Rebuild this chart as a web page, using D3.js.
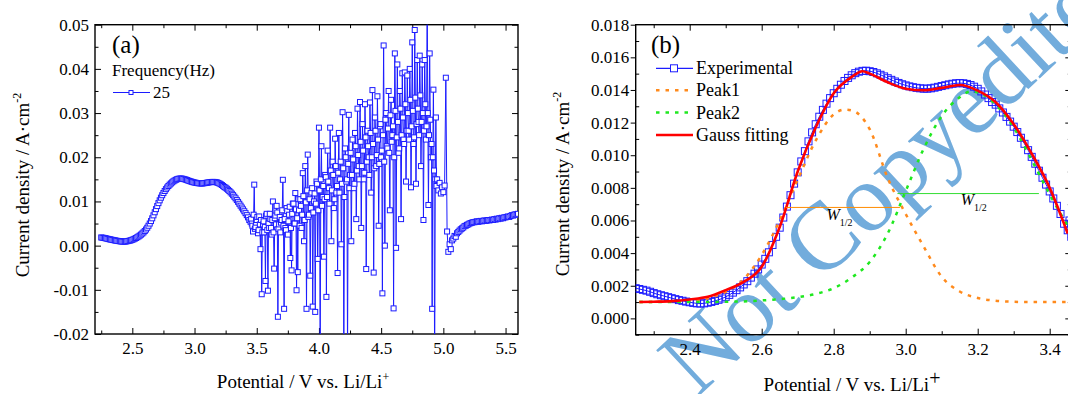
<!DOCTYPE html>
<html>
<head>
<meta charset="utf-8">
<script src="https://cdn.jsdelivr.net/npm/d3@7/dist/d3.min.js"></script>
<style>
  body { margin: 0; background: #fff; overflow: hidden; }
  svg { display: block; font-family: "Liberation Serif", "Times New Roman", serif; }
</style>
</head>
<body>
<svg id="chart" width="1068" height="394"></svg>
<script>
// experimental current density, A/cm2, on a 0.01 V grid
// smooth part : 2.25 -> 3.45 V
const smoothStart = 2.25;
const currentSmooth = [
  0.00185, 0.00180, 0.00175, 0.00170, 0.00163, 0.00155, 0.00148, 0.00142, 0.00136, 0.00130,
  0.00124, 0.00118, 0.00112, 0.00108, 0.00103, 0.00099, 0.00095, 0.00092, 0.00091, 0.00092,
  0.00096, 0.00101, 0.00107, 0.00114, 0.00122, 0.00132, 0.00144, 0.00158, 0.00173, 0.00190,
  0.00208, 0.00228, 0.00250, 0.00274, 0.00300, 0.00330, 0.00365, 0.00405, 0.00450, 0.00500,
  0.00556, 0.00618, 0.00685, 0.00755, 0.00826, 0.00895, 0.00962, 0.01025, 0.01085, 0.01140,
  0.01190, 0.01236, 0.01278, 0.01316, 0.01350, 0.01380, 0.01407, 0.01432, 0.01455, 0.01474,
  0.01490, 0.01503, 0.01512, 0.01517, 0.01518, 0.01515, 0.01510, 0.01502, 0.01493, 0.01483,
  0.01472, 0.01462, 0.01452, 0.01443, 0.01435, 0.01428, 0.01422, 0.01417, 0.01413, 0.01410,
  0.01408, 0.01408, 0.01410, 0.01414, 0.01419, 0.01424, 0.01429, 0.01434, 0.01438, 0.01441,
  0.01442, 0.01441, 0.01437, 0.01430, 0.01420, 0.01407, 0.01391, 0.01372, 0.01350, 0.01326,
  0.01310, 0.01287, 0.01262, 0.01235, 0.01206, 0.01175, 0.01142, 0.01107, 0.01070, 0.01031,
  0.00990, 0.00948, 0.00905, 0.00862, 0.00820, 0.00778, 0.00735, 0.00690, 0.00640, 0.00580,
  0.00540
];

// noisy part, points at 3.46, 3.47 ... 4.95 V
const noisyStart = 3.46;
const currentNoisy = [
  0.0050, 0.0032, 0.0138, 0.0042, 0.0058, 0.0028, 0.0066, -0.0008, -0.0110, 0.0048,
  0.0030, -0.0080, 0.0072, -0.0102, 0.0040, 0.0060, 0.0025, 0.0100, -0.0052, 0.0068,
  0.0090, -0.0161, 0.0048, 0.0030, 0.0058, 0.0149, -0.0143, 0.0040, 0.0085, 0.0025,
  0.0070, -0.0028, -0.0056, 0.0095, 0.0050, 0.0119, -0.0101, -0.0060, 0.0080, 0.0105,
  0.0040, 0.0164, 0.0010, 0.0180, -0.0143, 0.0206, 0.0070, -0.0068, 0.0120, -0.0138,
  0.0100, -0.0150, 0.0145, -0.0030, 0.0267, -0.0260, 0.0225, 0.0110, -0.0025, 0.0160,
  -0.0116, 0.0215, 0.0130, 0.0267, 0.0010, 0.0190, 0.0085, 0.0242, 0.0120, -0.0062,
  0.0255, 0.0150, 0.0003, 0.0302, -0.0270, 0.0220, 0.0145, -0.0260, 0.0296, 0.0160,
  0.0010, 0.0240, 0.0130, 0.0255, 0.0060, 0.0310, 0.0180, 0.0325, 0.0040, 0.0275,
  0.0150, 0.0320, -0.0053, 0.0260, 0.0200, 0.0324, 0.0120, 0.0352, -0.0061, 0.0290,
  0.0180, 0.0338, 0.0045, 0.0270, 0.0200, -0.0108, 0.0453, 0.0000, 0.0300, 0.0220,
  0.0350, 0.0080, 0.0330, 0.0250, -0.0142, 0.0435, -0.0005, 0.0410, 0.0210, 0.0350,
  0.0060, 0.0390, 0.0240, 0.0392, 0.0145, 0.0385, 0.0260, 0.0400, 0.0132, 0.0460,
  0.0230, 0.0488, 0.0140, 0.0420, 0.0280, 0.0430, 0.0180, 0.0410, 0.0058, 0.0420,
  0.0240, 0.0580, 0.0092, 0.0435, 0.0200, -0.0143, 0.0353, -0.0300, 0.0290, 0.0150
];

// noisy part, in-between points at 3.455, 3.465 ... 4.945 V (the dense core)
const noisyMidStart = 3.455;
const currentNoisyMid = [
  0.0060, 0.0045, 0.0070, 0.0038, 0.0052, 0.0065, 0.0035, 0.0048, 0.0058, 0.0030,
  0.0055, 0.0042, 0.0068, 0.0035, 0.0050, 0.0072, 0.0040, 0.0058, 0.0030, 0.0062,
  0.0048, 0.0075, 0.0038, 0.0065, 0.0052, 0.0080, 0.0045, 0.0060, 0.0035, 0.0078,
  0.0055, 0.0088, 0.0040, 0.0072, 0.0095, 0.0050, 0.0082, 0.0062, 0.0105, 0.0045,
  0.0090, 0.0070, 0.0112, 0.0058, 0.0098, 0.0125, 0.0065, 0.0105, 0.0085, 0.0130,
  0.0075, 0.0118, 0.0095, 0.0140, 0.0080, 0.0125, 0.0150, 0.0090, 0.0135, 0.0105,
  0.0155, 0.0110, 0.0145, 0.0095, 0.0170, 0.0125, 0.0160, 0.0105, 0.0180, 0.0135,
  0.0165, 0.0120, 0.0190, 0.0140, 0.0175, 0.0110, 0.0200, 0.0150, 0.0185, 0.0130,
  0.0210, 0.0160, 0.0195, 0.0140, 0.0225, 0.0170, 0.0205, 0.0150, 0.0235, 0.0180,
  0.0215, 0.0165, 0.0245, 0.0190, 0.0225, 0.0160, 0.0255, 0.0200, 0.0230, 0.0175,
  0.0260, 0.0205, 0.0240, 0.0185, 0.0275, 0.0215, 0.0250, 0.0190, 0.0285, 0.0225,
  0.0265, 0.0210, 0.0295, 0.0235, 0.0270, 0.0200, 0.0305, 0.0245, 0.0280, 0.0220,
  0.0310, 0.0250, 0.0290, 0.0230, 0.0320, 0.0260, 0.0300, 0.0240, 0.0330, 0.0270,
  0.0305, 0.0245, 0.0335, 0.0275, 0.0310, 0.0250, 0.0340, 0.0280, 0.0300, 0.0260,
  0.0320, 0.0270, 0.0300, 0.0250, 0.0285, 0.0230, 0.0200, 0.0170, 0.0150, 0.0135
];

// 4.96 -> 5.60 V
const tailStart = 4.96;
const currentTail = [
  0.0125, 0.0142, 0.0118, 0.0132, 0.0121, 0.0136, 0.0380, 0.0032, -0.0014, 0.0003,
  -0.0008, 0.0012, 0.0016, 0.0022, 0.0020, 0.0028, 0.0031, 0.0034, 0.0037, 0.0039,
  0.0041, 0.0044, 0.0045, 0.0047, 0.0048, 0.0050, 0.0051, 0.0052, 0.0053, 0.0053,
  0.0054, 0.0055, 0.0054, 0.0055, 0.0056, 0.0055, 0.0056, 0.0057, 0.0056, 0.0057,
  0.0058, 0.0057, 0.0058, 0.0059, 0.0058, 0.0060, 0.0059, 0.0061, 0.0060, 0.0062,
  0.0061, 0.0063, 0.0062, 0.0064, 0.0064, 0.0065, 0.0066, 0.0065, 0.0067, 0.0069,
  0.0068, 0.0070, 0.0071, 0.0070, 0.0072
];

// gauss fitting (b)
const fitPotential = [2.26, 2.30, 2.35, 2.40, 2.45, 2.50, 2.55, 2.60, 2.65, 2.70, 2.75, 2.80, 2.85,
  2.88, 2.90, 2.95, 3.00, 3.05, 3.10, 3.15, 3.20, 3.25, 3.30, 3.35, 3.40, 3.45];
const fitCurrent = [0.00100, 0.00102, 0.00106, 0.00116, 0.00132, 0.00173, 0.00224, 0.00316, 0.0056,
  0.0090, 0.0117, 0.0138, 0.0148, 0.01515, 0.0150, 0.01447, 0.01408, 0.01398, 0.01413, 0.0143,
  0.01396, 0.01325, 0.0119, 0.0101, 0.0080, 0.0052];

const peak1Potential = [2.26, 2.40, 2.50, 2.55, 2.60, 2.65, 2.70, 2.75, 2.80, 2.83, 2.85, 2.90, 2.95,
  3.00, 3.05, 3.10, 3.15, 3.20, 3.25, 3.30, 3.35, 3.46];
const peak1Current = [0.00100, 0.00108, 0.00163, 0.0024, 0.00388, 0.0060, 0.0085, 0.0109, 0.0125,
  0.0128, 0.01275, 0.0116, 0.0086, 0.0064, 0.0044, 0.00255, 0.00165, 0.00125, 0.00108, 0.00102,
  0.00100, 0.00100];

const peak2Potential = [2.26, 2.40, 2.50, 2.55, 2.60, 2.65, 2.70, 2.75, 2.80, 2.85, 2.90, 2.95, 3.00,
  3.05, 3.10, 3.15, 3.18, 3.20, 3.25, 3.30, 3.35, 3.40, 3.46];
const peak2Current = [0.00100, 0.00100, 0.00102, 0.00104, 0.00110, 0.00118, 0.00130, 0.00150, 0.00185,
  0.00250, 0.00346, 0.0052, 0.0078, 0.0104, 0.0124, 0.01355, 0.0139, 0.01385, 0.0131, 0.0117,
  0.0097, 0.0076, 0.0053];

// half-width markers
const halfPotential1 = [2.667, 2.984];
const halfCurrent1 = 0.0068;
const halfPotential2 = [2.977, 3.37];
const halfCurrent2 = 0.00765;

// axes ticks
const xMajorA = [2.5, 3.0, 3.5, 4.0, 4.5, 5.0, 5.5];
const xMinorA = [2.25, 2.75, 3.25, 3.75, 4.25, 4.75, 5.25];
const yMajorA = [-0.02, -0.01, 0.00, 0.01, 0.02, 0.03, 0.04, 0.05];
const yMinorA = [-0.015, -0.005, 0.005, 0.015, 0.025, 0.035, 0.045];
const xMajorB = [2.4, 2.6, 2.8, 3.0, 3.2, 3.4];
const xMinorB = [2.3, 2.5, 2.7, 2.9, 3.1, 3.3];
const yMajorB = [0.000, 0.002, 0.004, 0.006, 0.008, 0.010, 0.012, 0.014, 0.016, 0.018];
const yMinorB = [-0.001, 0.001, 0.003, 0.005, 0.007, 0.009, 0.011, 0.013, 0.015, 0.017];

const onGrid = (arr, start) => arr.map((c, i) => ({ p: +(start + i * 0.01).toFixed(3), c }));
const experimental = [
  ...onGrid(currentSmooth, smoothStart),
  ...onGrid(currentNoisy, noisyStart),
  ...onGrid(currentNoisyMid, noisyMidStart),
  ...onGrid(currentTail, tailStart)
].sort((a, b) => a.p - b.p);

const blue = "#1c1cff";
const orange = "#ff8a1c";
const green = "#1fe81f";
const svg = d3.select("#chart");

// watermark (beneath everything)
svg.append("text")
  .attr("transform", "translate(697,398) rotate(-43)")
  .attr("font-size", 96)
  .attr("fill", "#72acdc")
  .text("Not Copyedited");

function frame(g, x, y, o) {
  const [xl, xr] = x.range();
  const [yb, yt] = y.range();

  g.append("clipPath").attr("id", o.id)
    .append("rect").attr("x", xl).attr("y", yt).attr("width", xr - xl).attr("height", yb - yt);

  const put = (axis, t) => g.append("g").attr("transform", t).call(axis)
    .call(s => s.select(".domain").remove());

  put(d3.axisBottom(x).tickValues(o.xMajor).tickSize(-6).tickPadding(8).tickFormat(o.xFmt), `translate(0,${yb})`);
  put(d3.axisBottom(x).tickValues(o.xMinor).tickSize(-3.5).tickFormat(""), `translate(0,${yb})`);
  put(d3.axisTop(x).tickValues(o.xMajor).tickSize(-6).tickFormat(""), `translate(0,${yt})`);
  put(d3.axisTop(x).tickValues(o.xMinor).tickSize(-3.5).tickFormat(""), `translate(0,${yt})`);
  put(d3.axisLeft(y).tickValues(o.yMajor).tickSize(o.leftOut ? 5 : -6)
    .tickPadding(o.leftOut ? 1.5 : 6).tickFormat(o.yFmt), `translate(${xl},0)`);
  put(d3.axisLeft(y).tickValues(o.yMinor).tickSize(-3.5).tickFormat(""), `translate(${xl},0)`);
  put(d3.axisRight(y).tickValues(o.yMajor).tickSize(-6).tickFormat(""), `translate(${xr},0)`);
  put(d3.axisRight(y).tickValues(o.yMinor).tickSize(-3.5).tickFormat(""), `translate(${xr},0)`);

  g.selectAll(".tick text")
    .attr("font-family", "Liberation Serif, serif")
    .attr("font-size", 17)
    .attr("fill", "#000");
  g.selectAll(".tick line").attr("stroke", "#000").attr("stroke-width", 1);

  g.append("rect")
    .attr("x", xl).attr("y", yt).attr("width", xr - xl).attr("height", yb - yt)
    .attr("fill", "none").attr("stroke", "#000").attr("stroke-width", 1.4);
}

function titles(g, xCenter, xBase, yCenter, yBase, supSize, supShift) {
  const t = g.append("text")
    .attr("x", xCenter).attr("y", xBase)
    .attr("text-anchor", "middle").attr("font-size", 19)
    .text("Potential / V vs. Li/Li");
  t.append("tspan").attr("font-size", supSize).attr("dy", -supShift).text("+");

  const v = g.append("text")
    .attr("transform", `translate(${yBase},${yCenter}) rotate(-90)`)
    .attr("text-anchor", "middle").attr("font-size", 19)
    .text("Current density / A\u00b7cm");
  v.append("tspan").attr("font-size", 12).attr("dy", -8).text("-2");
}

// ---------- panel (a)
const xA = d3.scaleLinear().domain([2.2, 5.6]).range([95, 518]);
const yA = d3.scaleLinear().domain([-0.02, 0.05]).range([334, 24.7]);
const gA = svg.append("g");

frame(gA, xA, yA, {
  id: "clipA", xMajor: xMajorA, xMinor: xMinorA, yMajor: yMajorA, yMinor: yMinorA,
  xFmt: d => d.toFixed(1), yFmt: d => d.toFixed(2), leftOut: false
});

const dataA = gA.append("g").attr("clip-path", "url(#clipA)");
dataA.append("path")
  .datum(experimental)
  .attr("fill", "none").attr("stroke", blue).attr("stroke-width", 1)
  .attr("d", d3.line().x(d => xA(d.p)).y(d => yA(d.c)));
dataA.selectAll("rect.pt")
  .data(experimental)
  .join("rect").attr("class", "pt")
  .attr("x", d => xA(d.p) - 2.5).attr("y", d => yA(d.c) - 2.5)
  .attr("width", 5).attr("height", 5)
  .attr("fill", "#fff").attr("stroke", blue).attr("stroke-width", 1);

gA.append("text").attr("x", 112).attr("y", 53).attr("font-size", 25).text("(a)");
gA.append("text").attr("x", 112).attr("y", 76).attr("font-size", 17).text("Frequency(Hz)");
gA.append("line").attr("x1", 113).attr("x2", 150).attr("y1", 92.5).attr("y2", 92.5)
  .attr("stroke", blue).attr("stroke-width", 1);
gA.append("rect").attr("x", 129).attr("y", 90.5).attr("width", 4).attr("height", 4)
  .attr("fill", "#fff").attr("stroke", blue);
gA.append("text").attr("x", 153).attr("y", 98).attr("font-size", 17).text("25");

titles(gA, 303, 388, 185, 29, 12, 7);

// ---------- panel (b)
const xB = d3.scaleLinear().domain([2.25, 3.46]).range([635.7, 1071.3]);
const yB = d3.scaleLinear().domain([-0.001, 0.018]).range([334.7, 24.7]);
const gB = svg.append("g");

frame(gB, xB, yB, {
  id: "clipB", xMajor: xMajorB, xMinor: xMinorB, yMajor: yMajorB, yMinor: yMinorB,
  xFmt: d => d.toFixed(1), yFmt: d => d.toFixed(3), leftOut: true
});

const dataB = gB.append("g").attr("clip-path", "url(#clipB)");
const expB = experimental.filter(d => d.p <= 3.46);
dataB.append("path")
  .datum(expB)
  .attr("fill", "none").attr("stroke", blue).attr("stroke-width", 1)
  .attr("d", d3.line().x(d => xB(d.p)).y(d => yB(d.c)));
dataB.selectAll("rect.pt")
  .data(expB)
  .join("rect").attr("class", "pt")
  .attr("x", d => xB(d.p) - 3.5).attr("y", d => yB(d.c) - 3.5)
  .attr("width", 7).attr("height", 7)
  .attr("fill", "none").attr("stroke", blue).attr("stroke-width", 1);

const curveB = d3.line().x(d => xB(d[0])).y(d => yB(d[1])).curve(d3.curveMonotoneX);
dataB.append("path")
  .attr("d", curveB(d3.zip(peak1Potential, peak1Current)))
  .attr("fill", "none").attr("stroke", orange).attr("stroke-width", 2.5)
  .attr("stroke-dasharray", "3.5,6");
dataB.append("path")
  .attr("d", curveB(d3.zip(peak2Potential, peak2Current)))
  .attr("fill", "none").attr("stroke", green).attr("stroke-width", 2.5)
  .attr("stroke-dasharray", "3.5,6");
dataB.append("path")
  .attr("d", curveB(d3.zip(fitPotential, fitCurrent)))
  .attr("fill", "none").attr("stroke", "#ff0000").attr("stroke-width", 2.6);

dataB.append("line")
  .attr("x1", xB(halfPotential1[0])).attr("x2", xB(halfPotential1[1]))
  .attr("y1", yB(halfCurrent1)).attr("y2", yB(halfCurrent1))
  .attr("stroke", "#ff8c00").attr("stroke-width", 1);
dataB.append("line")
  .attr("x1", xB(halfPotential2[0])).attr("x2", xB(halfPotential2[1]))
  .attr("y1", yB(halfCurrent2)).attr("y2", yB(halfCurrent2))
  .attr("stroke", "#33dd33").attr("stroke-width", 1);

function halfLabel(x, y) {
  const t = gB.append("text").attr("x", x).attr("y", y).attr("font-size", 16);
  t.append("tspan").attr("font-style", "italic").text("W");
  t.append("tspan").attr("font-size", 10).attr("dy", 6).text("1/2");
}
halfLabel(xB(2.78), yB(halfCurrent1) + 12.5);
halfLabel(xB(3.153), yB(halfCurrent2) + 11.5);

gB.append("text").attr("x", 651).attr("y", 53).attr("font-size", 25).text("(b)");
const legB = [
  { label: "Experimental", y: 68.3, kind: "exp" },
  { label: "Peak1", y: 90.3, kind: "p1" },
  { label: "Peak2", y: 112.6, kind: "p2" },
  { label: "Gauss fitting", y: 135, kind: "fit" }
];
legB.forEach(d => {
  const l = gB.append("line").attr("x1", 656).attr("x2", 693).attr("y1", d.y).attr("y2", d.y);
  if (d.kind === "exp") {
    l.attr("stroke", blue).attr("stroke-width", 1.2);
    gB.append("rect").attr("x", 670.5).attr("y", d.y - 3.5).attr("width", 7).attr("height", 7)
      .attr("fill", "#fff").attr("stroke", blue);
  } else if (d.kind === "fit") {
    l.attr("stroke", "#ff0000").attr("stroke-width", 2.6);
  } else {
    l.attr("stroke", d.kind === "p1" ? orange : green).attr("stroke-width", 2.5)
      .attr("stroke-dasharray", "3.5,6");
  }
  gB.append("text").attr("x", 696).attr("y", d.y + 6).attr("font-size", 18).text(d.label);
});

titles(gB, 852, 391, 184, 569, 20, 6);
</script>
</body>
</html>
